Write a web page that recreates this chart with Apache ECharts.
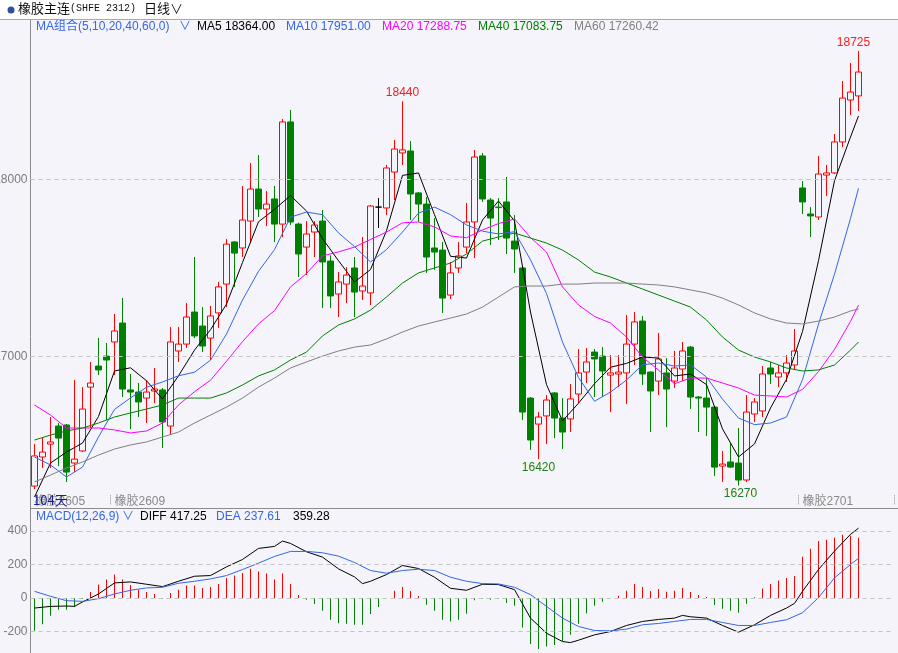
<!DOCTYPE html>
<html>
<head>
<meta charset="utf-8">
<title>橡胶主连 日线</title>
<script src="https://cdn.jsdelivr.net/npm/echarts@6/dist/echarts.min.js"></script>
<style>
html, body { margin: 0; padding: 0; background: #f4f4fa; }
#main { width: 898px; height: 653px; }
</style>
</head>
<body>
<div id="main"></div>
<script>
// 日K：开 / 收 / 低 / 高（104天）
var openP = [16267,16431,16504,16606,16612,16397,16465,16826,16945,17001,
  17081,17188,16810,16798,16764,16804,16810,16606,17030,17069,
  17250,17171,17103,17245,17408,17646,17612,17764,17945,17832,
  17889,17747,18324,17747,17617,17702,17764,17538,17352,17408,
  17499,17369,17358,17843,17838,18041,18149,18160,17923,17860,
  17612,17600,17346,17499,17617,17759,18132,17883,17843,17872,
  17651,17499,16764,16617,16663,16793,16651,16646,16787,16911,
  17024,17001,16894,16900,16906,17069,17199,16911,16860,16906,
  16860,16928,17052,16770,16764,16713,16380,16403,16397,16301,
  16674,16691,16934,16883,16906,16951,17951,17804,17787,18024,
  18036,18211,18448,18471];
var closeP = [16437,16459,16516,16538,16346,16419,16702,16849,16923,16979,
  17143,16815,16798,16742,16798,16815,16629,17081,17069,17222,
  17115,17058,17228,17392,17634,17583,17770,17945,17832,17860,
  17747,18324,17759,17578,17691,17742,17533,17341,17420,17459,
  17363,17397,17849,17843,18064,18171,18166,17917,17860,17561,
  17589,17329,17471,17567,17759,18126,17889,17781,17840,17668,
  17606,16685,16527,16657,16753,16651,16572,16759,16906,16968,
  16985,16917,16906,16911,17069,17194,16900,16804,16985,16815,
  16934,17030,16770,16764,16713,16374,16391,16374,16301,16685,
  16742,16900,16900,16906,16962,17030,17872,17793,18030,18036,
  18211,18459,18493,18606];
var lowP = [16250,16369,16369,16380,16290,16346,16460,16595,16894,16640,
  16894,16770,16589,16657,16623,16736,16482,16555,16968,17047,
  17103,17024,16979,17160,17278,17392,17561,17640,17787,17736,
  17646,17674,17742,17448,17459,17561,17273,17273,17222,17301,
  17222,17318,17290,17725,17798,17883,18081,17770,17759,17471,
  17488,17245,17324,17471,17583,17555,17872,17629,17657,17578,
  17471,16640,16471,16420,16504,16538,16476,16572,16736,16849,
  16770,16770,16685,16826,16730,16951,16838,16572,16781,16600,
  16821,16860,16702,16572,16550,16324,16290,16370,16270,16290,
  16629,16657,16843,16826,16855,16923,17804,17674,17770,17906,
  18030,18182,18363,18386];
var highP = [16504,16544,16657,16623,16618,16866,16826,16968,17103,17075,
  17239,17329,16900,16849,16866,16934,16821,17166,17166,17301,
  17561,17278,17284,17420,17663,17651,17962,18092,18137,17934,
  17962,18341,18392,17755,17764,17764,17827,17570,17476,17504,
  17561,17674,17855,17894,18081,18222,18440,18216,17928,17900,
  17781,17646,17533,17646,17866,18166,18149,17894,17894,18013,
  17798,17505,16770,16685,16781,16798,16764,16843,17041,17047,
  17041,17052,17007,17007,17233,17250,17228,16915,17132,16990,
  17030,17081,17058,16775,16877,16718,16465,16510,16595,16781,
  16764,16945,16968,16951,17007,17154,17990,17843,18132,18081,
  18256,18555,18657,18725];

// 均线（按图隔日读数）
var maDays = [0,2,4,6,8,10,12,14,16,18,20,22,24,26,28,30,32,34,36,38,40,42,44,46,48,50,
  52,54,56,58,60,62,64,66,68,70,72,74,76,78,80,82,84,86,88,90,92,94,96,98,100,102,103];
var ma5 = [16205,16397,16459,16510,16660,16917,16935,16862,16759,16890,
  17035,17150,17295,17530,17760,17830,17908,17821,17665,17540,
  17420,17490,17710,18022,18036,17800,17565,17555,17770,17877,
  17765,17250,16840,16635,16735,16845,16938,16960,16996,16990,
  16889,16900,16840,16590,16431,16505,16708,16870,17140,17540,
  17992,18239,18358];
var ma10 = [16431,16386,16318,16374,16544,16700,16765,16825,16855,16890,
  16910,16978,17126,17318,17480,17603,17786,17815,17800,17697,
  17620,17533,17603,17702,17809,17843,17800,17742,17707,17691,
  17704,17545,17355,17080,16880,16746,16798,16866,16952,16962,
  16945,16951,16883,16758,16651,16614,16623,16657,16868,17182,
  17464,17779,17949];
var ma20 = [16725,16668,16595,16595,16595,16584,16567,16578,16623,16725,
  16800,16865,16972,17083,17183,17258,17392,17468,17567,17590,
  17617,17660,17702,17754,17759,17731,17680,17670,17714,17750,
  17776,17671,17589,17392,17290,17225,17188,17109,16996,16922,
  16845,16877,16877,16849,16821,16781,16776,16770,16813,16914,
  17039,17197,17289];
var ma40 = [16527,16555,16578,16595,16623,16657,16680,16702,16725,16764,
  16764,16764,16793,16838,16889,16923,16979,17024,17115,17177,
  17211,17261,17335,17414,17471,17499,17527,17578,17651,17674,
  17697,17668,17640,17600,17544,17476,17448,17414,17380,17346,
  17312,17278,17205,17109,17035,16996,16968,16934,16917,16923,
  16951,17035,17081];
var ma60 = [16290,16329,16369,16403,16442,16476,16499,16516,16544,16572,
  16623,16668,16713,16764,16826,16877,16934,16968,17001,17030,
  17052,17064,17098,17137,17171,17194,17216,17239,17278,17335,
  17392,17397,17397,17408,17408,17414,17414,17414,17408,17403,
  17392,17375,17358,17329,17290,17245,17211,17188,17183,17199,
  17222,17256,17267];

// MACD(12,26,9)
var macdHist = [-196,-156,-106,-70,-70,-54,-6,36,80,110,
  140,110,78,50,36,24,-4,30,50,74,
  74,60,66,84,120,134,150,174,158,146,
  110,146,84,18,-10,-36,-76,-130,-150,-154,
  -160,-160,-96,-54,-2,44,66,42,12,-40,
  -76,-130,-140,-130,-94,-14,-4,-10,-4,-30,
  -46,-176,-274,-304,-290,-280,-256,-220,-154,-92,
  -46,-22,-2,14,44,84,66,42,54,38,
  44,60,36,18,6,-42,-64,-76,-88,-34,
  4,56,84,104,120,132,246,294,340,348,
  360,378,372,359];
var diffDays = [0,2,4,5,6,8,10,12,14,16,18,20,22,24,26,28,30,31,32,34,36,38,40,41,42,
  44,46,48,50,52,54,56,58,60,62,64,66,67,68,70,72,74,76,78,80,81,82,84,86,88,
  90,92,94,95,96,98,100,102,103];
var diffVals = [-60,-50,-48,-50,-24,24,90,96,82,68,100,130,134,186,230,296,308,340,326,276,
  244,174,126,86,100,140,194,176,124,58,46,82,80,50,-120,-210,-260,-266,-252,-220,
  -200,-164,-140,-128,-120,-104,-112,-120,-164,-204,-160,-104,-60,-32,40,170,280,380,417];
var deaVals = [40,10,-16,-20,-4,24,46,60,64,88,
  100,114,134,170,208,248,278,278,270,250,
  212,164,148,164,172,164,124,100,86,84,
  64,20,-50,-120,-170,-194,-196,-186,-160,-152,
  -140,-128,-128,-146,-164,-164,-146,-130,-88,2,
  120,200,237];

var priceTicks = [17000, 18000];
var macdTicks = [-200, 0, 200, 400];
var rollIndex = [0, 10, 96];
var rollName = ['橡胶2605', '橡胶2609', '橡胶2701'];
var maNames = ['MA5', 'MA10', 'MA20', 'MA40', 'MA60'];
var maLast = ['18364.00', '17951.00', '17288.75', '17083.75', '17260.42'];
var macdLast = ['417.25', '237.61', '359.28'];
var markIdx = [103, 46, 63, 88];
var markSide = ['high', 'high', 'low', 'low'];

var BG = '#f4f4fa';
var UP = '#ff0000';
var DOWN = '#008000';
var BLUE = '#3565e8';
var maColors = ['#000000', BLUE, '#ff00ff', '#008000', '#808080'];
var FONT = '"Liberation Sans","Noto Sans CJK SC",sans-serif';

var days = [];
for (var i = 0; i < openP.length + 4; i++) {
    days.push(String(i + 1));
}

var candleData = openP.map(function (o, i) {
    var item = { value: [o, closeP[i], lowP[i], highP[i]] };
    if (o === closeP[i]) {
        item.itemStyle = { color: '#000', color0: '#000', borderColor: '#000', borderColor0: '#000' };
    }
    return item;
});

function maLine(k, vals) {
    return {
        name: maNames[k], type: 'line', xAxisIndex: 0, yAxisIndex: 0,
        data: maDays.map(function (d, j) { return [d, vals[j]]; }),
        symbol: 'none', silent: true, z: 3,
        lineStyle: { width: 1, color: maColors[k] }
    };
}

function gridLines(vals) {
    return {
        symbol: 'none', silent: true, animation: false,
        label: { show: false },
        lineStyle: { color: '#c4c4c4', type: [4, 4], width: 1 },
        data: vals.map(function (v) { return { yAxis: v }; })
    };
}

var markShift = { 103: -5, 88: 2 };

var chart = echarts.init(document.getElementById('main'));
chart.setOption({
    backgroundColor: BG,
    animation: false,
    textStyle: { fontFamily: FONT },
    grid: [
        { left: 30.5, width: 864, top: 2.3, height: 531, containLabel: false, outerBoundsMode: 'none' },
        { left: 30.5, width: 864, top: 497.5, height: 167.5, containLabel: false, outerBoundsMode: 'none' }
    ],
    xAxis: [{
        type: 'category', gridIndex: 0, data: days, boundaryGap: true,
        offset: -38,
        axisLine: { show: false },
        axisTick: {
            show: true, length: 9,
            interval: function (idx) { return idx !== 0 && rollIndex.indexOf(idx) >= 0; },
            lineStyle: { color: '#909090', type: 'dotted' }
        },
        axisLabel: {
            interval: function (idx) { return rollIndex.indexOf(idx) >= 0; },
            formatter: function (v, idx) { return rollName[rollIndex.indexOf(idx)] || ''; },
            align: 'left', margin: 0, color: '#8a8a8a', fontSize: 12, fontFamily: FONT
        },
        splitLine: { show: false }
    }, {
        type: 'category', gridIndex: 1, data: days, boundaryGap: true,
        show: false
    }],
    yAxis: [{
        type: 'value', gridIndex: 0, min: 16000, max: 19000, interval: 1000,
        axisLine: { show: false }, axisTick: { show: false }, splitLine: { show: false },
        axisLabel: {
            margin: 3, color: '#7c7c7c', fontSize: 12, fontFamily: FONT,
            formatter: function (v) { return priceTicks.indexOf(v) >= 0 ? String(v) : ''; }
        }
    }, {
        type: 'value', gridIndex: 1, min: -400, max: 600, interval: 200,
        axisLine: { show: false }, axisTick: { show: false }, splitLine: { show: false },
        axisLabel: {
            margin: 3, color: '#7c7c7c', fontSize: 12, fontFamily: FONT,
            formatter: function (v) { return macdTicks.indexOf(v) >= 0 ? String(v) : ''; }
        }
    }],
    series: [{
        name: '橡胶主连', type: 'candlestick', xAxisIndex: 0, yAxisIndex: 0,
        data: candleData, barWidth: 6, z: 2,
        itemStyle: { color: BG, color0: DOWN, borderColor: UP, borderColor0: DOWN, borderWidth: 1 },
        markLine: gridLines(priceTicks),
        markPoint: {
            symbol: 'circle', symbolSize: 1, silent: true, animation: false,
            itemStyle: { color: 'rgba(0,0,0,0)' },
            data: markIdx.map(function (d, k) {
                var hi = markSide[k] === 'high';
                var v = hi ? highP[d] : lowP[d];
                return {
                    coord: [d, v], value: v,
                    label: {
                        show: true, formatter: '{c}', fontSize: 12, fontFamily: FONT,
                        position: hi ? 'top' : 'bottom', distance: 2,
                        offset: [markShift[d] || 0, 0],
                        color: hi ? '#ff1a1a' : '#1d7a45',
                        textBorderColor: hi ? 'rgba(0,0,0,0)' : '#f6f6d8',
                        textBorderWidth: hi ? 0 : 2
                    }
                };
            })
        }
    },
    maLine(0, ma5), maLine(1, ma10), maLine(2, ma20), maLine(3, ma40), maLine(4, ma60),
    {
        name: 'MACD', type: 'bar', xAxisIndex: 1, yAxisIndex: 1, barWidth: 1, silent: true,
        data: macdHist.map(function (v) {
            return { value: v, itemStyle: { color: v >= 0 ? UP : DOWN } };
        }),
        markLine: gridLines(macdTicks)
    }, {
        name: 'DIFF', type: 'line', xAxisIndex: 1, yAxisIndex: 1, symbol: 'none', silent: true, z: 3,
        data: diffDays.map(function (d, j) { return [d, diffVals[j]]; }),
        lineStyle: { width: 1, color: '#000000' }
    }, {
        name: 'DEA', type: 'line', xAxisIndex: 1, yAxisIndex: 1, symbol: 'none', silent: true, z: 3,
        data: maDays.map(function (d, j) { return [d, deaVals[j]]; }),
        lineStyle: { width: 1, color: BLUE }
    }],
    graphic: [
        { type: 'rect', shape: { x: 0, y: 0, width: 898, height: 19 }, style: { fill: '#ffffff' }, silent: true },
        { type: 'line', shape: { x1: 0, y1: 19.5, x2: 898, y2: 19.5 }, style: { stroke: '#a8a8a8', lineWidth: 1 }, silent: true },
        { type: 'line', shape: { x1: 30.5, y1: 20, x2: 30.5, y2: 653 }, style: { stroke: '#8c8c8c', lineWidth: 1 }, silent: true },
        { type: 'line', shape: { x1: 30, y1: 508.5, x2: 898, y2: 508.5 }, style: { stroke: '#8c8c8c', lineWidth: 1 }, silent: true },
        { type: 'circle', shape: { cx: 11, cy: 10, r: 3.5 }, style: { fill: '#2d4f9c' }, silent: true },
        {
            type: 'text', left: 18, top: 2, silent: true,
            style: {
                text: '{a|橡胶主连}{b|(SHFE 2312)}',
                rich: {
                    a: { font: '13px "Noto Sans CJK SC"', fill: '#111' },
                    b: { font: '10px "Liberation Mono"', fill: '#111' }
                }
            }
        },
        { type: 'text', left: 144, top: 2, silent: true, style: { text: '日线∨', font: '13px "Noto Sans CJK SC"', fill: '#111' } },
        { type: 'text', left: 36, top: 21, silent: true, style: { text: 'MA组合(5,10,20,40,60,0)', font: '12px ' + FONT, fill: BLUE } },
        { type: 'text', left: 179, top: 21, silent: true, style: { text: '∨', font: '12px ' + FONT, fill: BLUE } },
        { type: 'text', left: 197, top: 21, silent: true, style: { text: maNames[0] + ' ' + maLast[0], font: '12px ' + FONT, fill: maColors[0] } },
        { type: 'text', left: 286, top: 21, silent: true, style: { text: maNames[1] + ' ' + maLast[1], font: '12px ' + FONT, fill: maColors[1] } },
        { type: 'text', left: 382, top: 21, silent: true, style: { text: maNames[2] + ' ' + maLast[2], font: '12px ' + FONT, fill: maColors[2] } },
        { type: 'text', left: 478, top: 21, silent: true, style: { text: maNames[3] + ' ' + maLast[3], font: '12px ' + FONT, fill: maColors[3] } },
        { type: 'text', left: 574, top: 21, silent: true, style: { text: maNames[4] + ' ' + maLast[4], font: '12px ' + FONT, fill: maColors[4] } },
        { type: 'text', left: 33, top: 494, silent: true, z: 100, style: { text: openP.length + '天', font: '13px "Noto Sans CJK SC"', fill: '#1b1b9e' } },
        { type: 'text', left: 36, top: 511, silent: true, style: { text: 'MACD(12,26,9)', font: '12px ' + FONT, fill: BLUE } },
        { type: 'text', left: 122, top: 511, silent: true, style: { text: '∨', font: '12px ' + FONT, fill: BLUE } },
        { type: 'text', left: 140, top: 511, silent: true, style: { text: 'DIFF ' + macdLast[0], font: '12px ' + FONT, fill: '#000' } },
        { type: 'text', left: 216, top: 511, silent: true, style: { text: 'DEA ' + macdLast[1], font: '12px ' + FONT, fill: BLUE } },
        { type: 'text', left: 293, top: 511, silent: true, style: { text: macdLast[2], font: '12px ' + FONT, fill: '#000' } }
    ]
});
</script>
</body>
</html>
